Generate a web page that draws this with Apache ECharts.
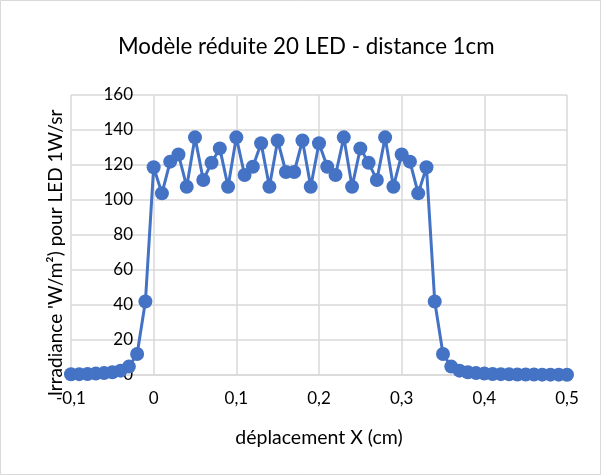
<!DOCTYPE html>
<html>
<head>
<meta charset="utf-8">
<script src="https://cdn.jsdelivr.net/npm/echarts@6/dist/echarts.min.js"></script>
<style>html,body{margin:0;padding:0;background:#fff}#c{width:601px;height:475px}</style>
</head>
<body>
<div id="c"></div>
<script>
const titleText = "Modèle réduite 20 LED - distance 1cm";
const xTitle = "déplacement X (cm)";
const yTitle = "Irradiance 'W/m²) pour LED 1W/sr";
const xValues = [-0.10,-0.09,-0.08,-0.07,-0.06,-0.05,-0.04,-0.03,-0.02,-0.01,
  0.00,0.01,0.02,0.03,0.04,0.05,0.06,0.07,0.08,0.09,
  0.10,0.11,0.12,0.13,0.14,0.15,0.16,0.17,0.18,0.19,
  0.20,0.21,0.22,0.23,0.24,0.25,0.26,0.27,0.28,0.29,
  0.30,0.31,0.32,0.33,0.34,0.35,0.36,0.37,0.38,0.39,
  0.40,0.41,0.42,0.43,0.44,0.45,0.46,0.47,0.48,0.49,0.50];
const irradiance = [0.4,0.5,0.6,0.8,1.1,1.6,2.5,4.8,12,42,
  118.7,103.8,121.9,126,107.6,135.8,111.4,121.3,129.5,107.6,
  135.8,114.3,119,132.4,107.6,134,116,116,134,107.6,
  132.4,119,114.3,135.8,107.6,129.5,121.3,111.4,135.8,107.6,
  126,121.9,103.8,118.7,42,12,4.8,2.5,1.6,1.1,
  0.8,0.6,0.5,0.4,0.3,0.3,0.25,0.2,0.2,0.2,0.15];
const xTicks = {min: -0.1, max: 0.5, interval: 0.1};
const yTicks = {min: 0, max: 160, interval: 20};

const FONT = 'Lato';
const chart = echarts.init(document.getElementById('c'), null, {renderer: 'canvas'});
chart.setOption({
  backgroundColor: '#fff',
  animation: false,
  title: {
    text: titleText, left: 113, top: 31,
    textStyle: {fontFamily: FONT, fontSize: 22.3, fontWeight: 'normal', color: '#000'}
  },
  grid: {left: 71, right: 34, top: 95, bottom: 100, containLabel: false},
  xAxis: {
    type: 'value', min: xTicks.min, max: xTicks.max, interval: xTicks.interval,
    name: xTitle, nameLocation: 'middle', nameGap: 53,
    nameTextStyle: {fontFamily: FONT, fontSize: 19.5, color: '#000'},
    axisLine: {show: true, lineStyle: {color: '#d9d9d9', width: 1.5}},
    axisTick: {show: false},
    axisLabel: {fontFamily: FONT, fontSize: 17, color: '#000', margin: 15,
      formatter: v => (Math.round(v*10)/10).toString().replace('.', ',')},
    splitLine: {show: true, lineStyle: {color: '#d9d9d9', width: 1.5}}
  },
  yAxis: {
    type: 'value', min: yTicks.min, max: yTicks.max, interval: yTicks.interval,
    axisLine: {show: false},
    axisTick: {show: false},
    axisLabel: {fontFamily: FONT, fontSize: 17, color: '#000', margin: -62},
    splitLine: {show: true, lineStyle: {color: '#d9d9d9', width: 1.5}}
  },
  graphic: [
    {type: 'rect', shape: {x: 0.5, y: 0.5, width: 600, height: 474},
     style: {fill: 'none', stroke: '#d9d9d9', lineWidth: 1}, silent: true},
    {type: 'text', x: 56, y: 253, rotation: Math.PI/2,
     style: {text: yTitle, fontFamily: FONT, fontSize: 19, fill: '#000',
       align: 'center', verticalAlign: 'middle'}}
  ],
  series: [{
    type: 'line',
    data: xValues.map((x, i) => [x, irradiance[i]]),
    symbol: 'circle', symbolSize: 14,
    lineStyle: {color: '#4472C4', width: 3},
    itemStyle: {color: '#4472C4'},
    clip: false
  }]
});
</script>
</body>
</html>
